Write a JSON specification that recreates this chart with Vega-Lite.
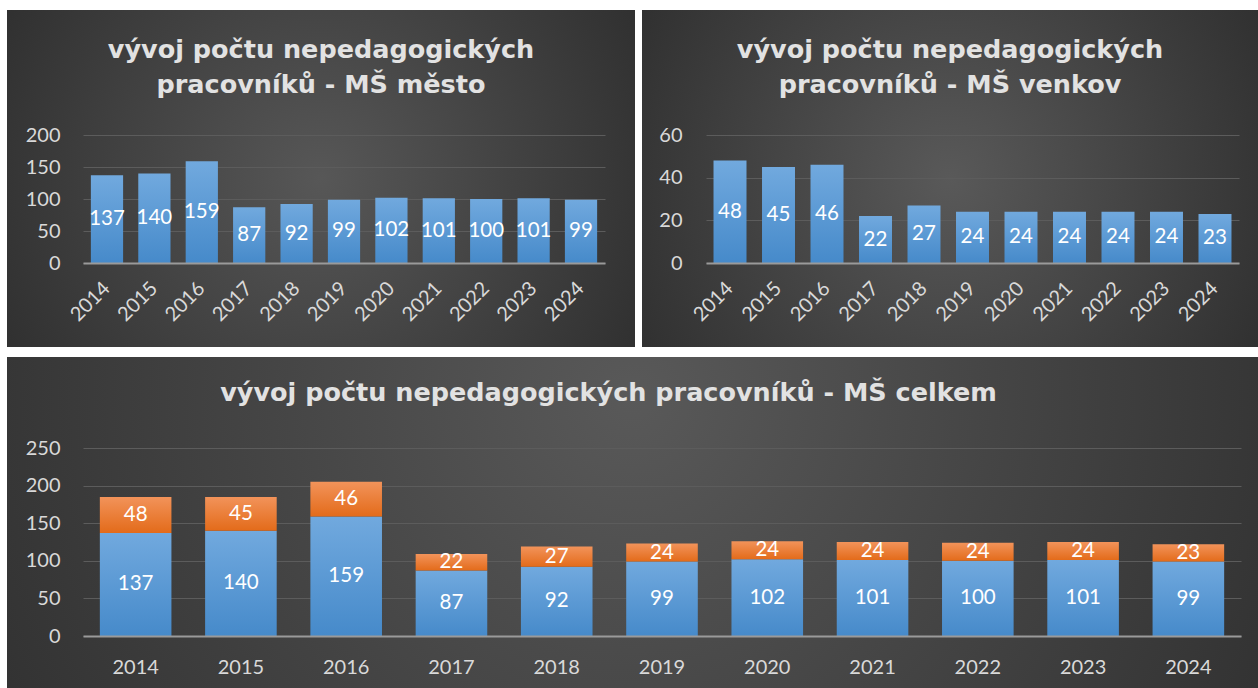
{
  "$schema": "https://vega.github.io/schema/vega-lite/v6.json",
  "background": "#ffffff",
  "padding": {"left": 7, "top": 10, "right": 0, "bottom": 0},
  "datasets": {
    "d": [
      {"year": "2014", "series": "město", "value": 137}, {"year": "2014", "series": "venkov", "value": 48},
      {"year": "2015", "series": "město", "value": 140}, {"year": "2015", "series": "venkov", "value": 45},
      {"year": "2016", "series": "město", "value": 159}, {"year": "2016", "series": "venkov", "value": 46},
      {"year": "2017", "series": "město", "value": 87}, {"year": "2017", "series": "venkov", "value": 22},
      {"year": "2018", "series": "město", "value": 92}, {"year": "2018", "series": "venkov", "value": 27},
      {"year": "2019", "series": "město", "value": 99}, {"year": "2019", "series": "venkov", "value": 24},
      {"year": "2020", "series": "město", "value": 102}, {"year": "2020", "series": "venkov", "value": 24},
      {"year": "2021", "series": "město", "value": 101}, {"year": "2021", "series": "venkov", "value": 24},
      {"year": "2022", "series": "město", "value": 100}, {"year": "2022", "series": "venkov", "value": 24},
      {"year": "2023", "series": "město", "value": 101}, {"year": "2023", "series": "venkov", "value": 24},
      {"year": "2024", "series": "město", "value": 99}, {"year": "2024", "series": "venkov", "value": 23}
    ]
  },
  "spacing": 10,
  "vconcat": [
    {
      "spacing": 7,
      "hconcat": [
        {
          "width": 628,
          "height": 337,
          "view": {"stroke": null, "fill": {"gradient": "radial", "x1": 0.5, "y1": 0.5, "r1": 0, "x2": 0.5, "y2": 0.5, "r2": 0.72, "stops": [{"offset": 0, "color": "#575757"}, {"offset": 1, "color": "#262626"}]}},
          "title": {"text": ["vývoj počtu nepedagogických", "pracovníků - MŠ město"], "frame": "group", "anchor": "middle", "offset": -88, "font": "DejaVu Sans", "fontSize": 25.5, "fontWeight": "bold", "color": "#e2e2e2", "lineHeight": 35},
          "data": {"name": "d"},
          "transform": [{"filter": "datum.series === 'město'"}],
          "encoding": {
            "x": {"field": "year", "type": "ordinal", "scale": {"range": [76, 598], "paddingInner": 0.32, "paddingOuter": 0.166},
              "axis": {"orient": "bottom", "offset": -84, "title": null, "labelAngle": -45, "labelAlign": "right", "labelBaseline": "middle", "labelPadding": 22, "ticks": false, "domain": true, "domainColor": "#9a9a9a", "domainWidth": 2, "grid": false, "labelFont": "Lato", "labelFontSize": 20, "labelColor": "#d9d9d9", "labelOverlap": false, "zindex": 1}}
          },
          "layer": [
            {"mark": {"type": "bar", "fill": {"gradient": "linear", "x1": 0, "y1": 0, "x2": 0, "y2": 1, "stops": [{"offset": 0, "color": "#71a9de"}, {"offset": 1, "color": "#468aca"}]}},
              "encoding": {"y": {"field": "value", "type": "quantitative", "scale": {"domain": [0, 200], "range": [253, 125], "nice": false},
                "axis": {"orient": "left", "offset": -53, "values": [0, 50, 100, 150, 200], "title": null, "labelPadding": 0, "ticks": false, "domain": false, "grid": true, "gridColor": "#5c5c5c", "gridWidth": 1, "labelFont": "Lato", "labelFontSize": 20, "labelColor": "#d9d9d9"}}}},
            {"mark": {"type": "text", "color": "#ffffff", "font": "Lato", "fontSize": 20.5, "baseline": "middle"},
              "encoding": {"y": {"field": "value", "type": "quantitative", "stack": "zero", "bandPosition": 0.5}, "text": {"field": "value", "type": "quantitative"}}}
          ]
        },
        {
          "width": 616,
          "height": 337,
          "view": {"stroke": null, "fill": {"gradient": "radial", "x1": 0.5, "y1": 0.5, "r1": 0, "x2": 0.5, "y2": 0.5, "r2": 0.72, "stops": [{"offset": 0, "color": "#595959"}, {"offset": 1, "color": "#262626"}]}},
          "title": {"text": ["vývoj počtu nepedagogických", "pracovníků - MŠ venkov"], "frame": "group", "anchor": "middle", "offset": -88, "font": "DejaVu Sans", "fontSize": 25.5, "fontWeight": "bold", "color": "#e2e2e2", "lineHeight": 35},
          "data": {"name": "d"},
          "transform": [{"filter": "datum.series === 'venkov'"}],
          "encoding": {
            "x": {"field": "year", "type": "ordinal", "scale": {"range": [64, 597], "paddingInner": 0.32, "paddingOuter": 0.155},
              "axis": {"orient": "bottom", "offset": -84, "title": null, "labelAngle": -45, "labelAlign": "right", "labelBaseline": "middle", "labelPadding": 22, "ticks": false, "domain": true, "domainColor": "#9a9a9a", "domainWidth": 2, "grid": false, "labelFont": "Lato", "labelFontSize": 20, "labelColor": "#d9d9d9", "labelOverlap": false, "zindex": 1}}
          },
          "layer": [
            {"mark": {"type": "bar", "fill": {"gradient": "linear", "x1": 0, "y1": 0, "x2": 0, "y2": 1, "stops": [{"offset": 0, "color": "#71a9de"}, {"offset": 1, "color": "#468aca"}]}},
              "encoding": {"y": {"field": "value", "type": "quantitative", "scale": {"domain": [0, 60], "range": [253, 125], "nice": false},
                "axis": {"orient": "left", "offset": -40, "values": [0, 20, 40, 60], "title": null, "labelPadding": 0, "ticks": false, "domain": false, "grid": true, "gridColor": "#5c5c5c", "gridWidth": 1, "labelFont": "Lato", "labelFontSize": 20, "labelColor": "#d9d9d9"}}}},
            {"mark": {"type": "text", "color": "#ffffff", "font": "Lato", "fontSize": 20.5, "baseline": "middle"},
              "encoding": {"y": {"field": "value", "type": "quantitative", "stack": "zero", "bandPosition": 0.5}, "text": {"field": "value", "type": "quantitative"}}}
          ]
        }
      ]
    },
    {
      "width": 1251,
      "height": 331,
      "view": {"stroke": null, "fill": {"gradient": "radial", "x1": 0.5, "y1": 0.4, "r1": 0, "x2": 0.5, "y2": 0.4, "r2": 0.75, "stops": [{"offset": 0, "color": "#595959"}, {"offset": 1, "color": "#252525"}]}},
      "title": {"text": "vývoj počtu nepedagogických pracovníků - MŠ celkem", "frame": "group", "anchor": "middle", "dx": -24, "offset": -49, "font": "DejaVu Sans", "fontSize": 25.5, "fontWeight": "bold", "color": "#e2e2e2"},
      "data": {"name": "d"},
      "transform": [{"stack": "value", "groupby": ["year"], "sort": [{"field": "series", "order": "ascending"}], "as": ["v0", "v1"]}],
      "encoding": {
        "x": {"field": "year", "type": "ordinal", "scale": {"range": [76, 1234], "paddingInner": 0.32, "paddingOuter": 0.16},
          "axis": {"orient": "bottom", "offset": -52, "title": null, "labelAngle": 0, "labelBaseline": "middle", "labelPadding": 31, "ticks": false, "domain": true, "domainColor": "#9a9a9a", "domainWidth": 2, "grid": false, "labelFont": "Lato", "labelFontSize": 20, "labelColor": "#d9d9d9", "zindex": 1}}
      },
      "layer": [
        {"transform": [{"filter": "datum.series === 'město'"}],
          "mark": {"type": "bar", "fill": {"gradient": "linear", "x1": 0, "y1": 0, "x2": 0, "y2": 1, "stops": [{"offset": 0, "color": "#71a9de"}, {"offset": 1, "color": "#468aca"}]}},
          "encoding": {"y": {"field": "v1", "type": "quantitative", "scale": {"domain": [0, 250], "range": [279, 91], "nice": false},
            "axis": {"orient": "left", "offset": -53, "values": [0, 50, 100, 150, 200, 250], "title": null, "labelPadding": 0, "ticks": false, "domain": false, "grid": true, "gridColor": "#5c5c5c", "gridWidth": 1, "labelFont": "Lato", "labelFontSize": 20, "labelColor": "#d9d9d9"}},
            "y2": {"field": "v0"}}},
        {"transform": [{"filter": "datum.series === 'venkov'"}],
          "mark": {"type": "bar", "fill": {"gradient": "linear", "x1": 0, "y1": 0, "x2": 0, "y2": 1, "stops": [{"offset": 0, "color": "#f2935a"}, {"offset": 1, "color": "#e36b1a"}]}},
          "encoding": {"y": {"field": "v1", "type": "quantitative"}, "y2": {"field": "v0"}}},
        {"mark": {"type": "text", "color": "#ffffff", "font": "Lato", "fontSize": 20.5, "baseline": "middle"},
          "encoding": {"y": {"field": "value", "type": "quantitative", "stack": "zero", "bandPosition": 0.5}, "detail": {"field": "series"}, "text": {"field": "value", "type": "quantitative"}}}
      ]
    }
  ]
}
